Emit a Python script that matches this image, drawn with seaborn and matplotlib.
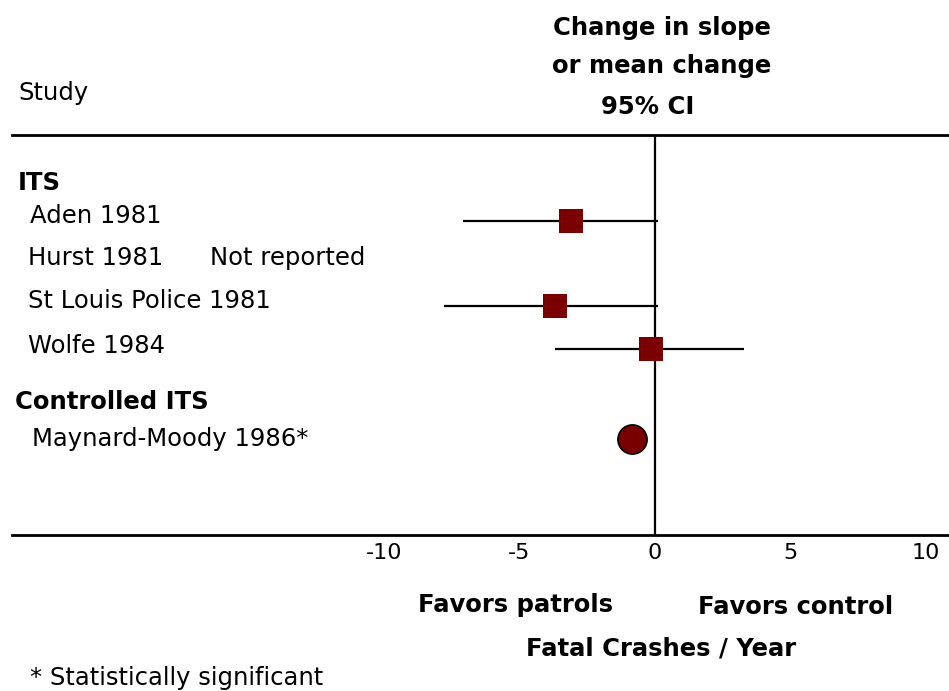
import numpy as np
import pandas as pd
import matplotlib
matplotlib.use('Agg')
import matplotlib.pyplot as plt
import seaborn as sns

# data
studies = ['Aden 1981', 'Hurst 1981', 'St Louis Police 1981', 'Wolfe 1984', 'Maynard-Moody 1986*']
groups = ['ITS', 'ITS', 'ITS', 'ITS', 'Controlled ITS']
estimate = [-3.1, np.nan, -3.7, -0.15, -0.85]
lower = [-7.1, np.nan, -7.8, -3.7, np.nan]
upper = [0.1, np.nan, 0.1, 3.3, np.nan]
xticks = [-10, -5, 0, 5, 10]

# layout (pixel rows of the 949x691 picture)
W, H = 949, 691
row_y = [221, 258, 306, 349, 439]
label_y = [216, 258, 301, 346, 439]
label_x = [30, 28, 28, 28, 32]

df = pd.DataFrame({'study': studies, 'group': groups, 'est': estimate,
                   'lo': lower, 'hi': upper, 'y': row_y})

sns.set_style('white')
plt.rcParams['font.family'] = ['DejaVu Sans']
plt.rcParams['text.color'] = 'black'
plt.rcParams['xtick.color'] = 'black'

fig = plt.figure(figsize=(W / 100, H / 100), dpi=100)
x0_px, zero_px, unit_px = 12, 655, 27.1
ax = fig.add_axes([x0_px / W, (H - 535) / H, (W - x0_px) / W, 400 / H])
ax.set_xlim((x0_px - zero_px) / unit_px, (W - zero_px) / unit_px)
ax.set_ylim(535, 135)

dark_red = '#7a0000'

ci = df.dropna(subset=['lo'])
ax.hlines(ci['y'], ci['lo'], ci['hi'], color='black', lw=1.6, zorder=2)
ax.axvline(0, color='black', lw=1.6, zorder=1)

its = df[(df['group'] == 'ITS') & df['est'].notna()]
sns.scatterplot(data=its, x='est', y='y', marker='s', s=310, color=dark_red,
                edgecolor=dark_red, linewidth=0, ax=ax, zorder=3)
cits = df[df['group'] == 'Controlled ITS']
sns.scatterplot(data=cits, x='est', y='y', marker='o', s=440, color=dark_red,
                edgecolor='black', linewidth=1.2, ax=ax, zorder=3)

for side in ['left', 'right']:
    ax.spines[side].set_visible(False)
for side in ['top', 'bottom']:
    ax.spines[side].set_linewidth(2)
    ax.spines[side].set_color('black')
ax.set_yticks([])
ax.set_xticks(xticks)
ax.set_xticklabels([str(t) for t in xticks], fontsize=16, color='black')
ax.tick_params(axis='x', direction='inout', length=8, width=1.5, pad=2)
ax.set_xlabel('')
ax.set_ylabel('')


def put(x, y, s, **kw):
    fig.text(x / W, 1 - y / H, s, va='center', color='black', **kw)


reg = dict(fontsize=17.5)
bold = dict(fontsize=17.5, fontweight='bold')

put(18, 93, 'Study', **reg)
put(662, 28, 'Change in slope', ha='center', **bold)
put(662, 66, 'or mean change', ha='center', **bold)
put(648, 107, '95% CI', ha='center', **bold)

put(18, 183, 'ITS', **bold)
put(15, 402, 'Controlled ITS', **bold)
for s, x, y in zip(studies, label_x, label_y):
    put(x, y, s, **reg)
put(210, 258, 'Not reported', **reg)

put(515, 605, 'Favors patrols', ha='center', **bold)
put(796, 607, 'Favors control', ha='center', **bold)
put(661, 648, 'Fatal Crashes / Year', ha='center', **bold)
put(30, 678, '* Statistically significant', **reg)

fig.savefig('out.png', dpi=100)
